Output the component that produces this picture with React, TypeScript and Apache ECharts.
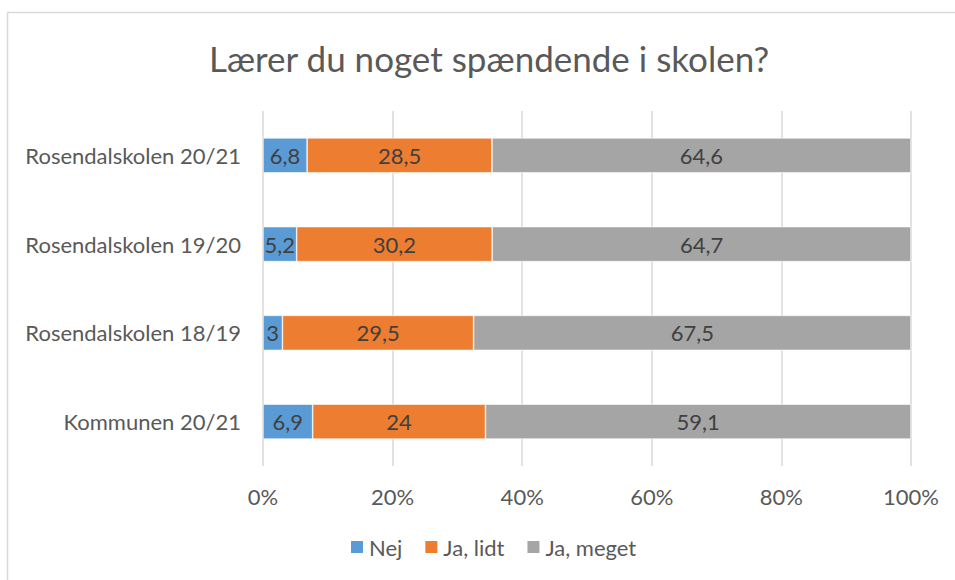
import React, { useEffect, useRef } from "react";
import * as echarts from "echarts";

const title = "Lærer du noget spændende i skolen?";
const categories = ["Kommunen 20/21", "Rosendalskolen 18/19", "Rosendalskolen 19/20", "Rosendalskolen 20/21"];
const seriesNames = ["Nej", "Ja, lidt", "Ja, meget"];
const nej = [6.9, 3, 5.2, 6.8];
const jaLidt = [24, 29.5, 30.2, 28.5];
const jaMeget = [59.1, 67.5, 64.7, 64.6];
const colors = ["#5B9BD5", "#ED7D31", "#A5A5A5"];
const FONT = "Lato";

export default function App() {
  const ref = useRef<HTMLDivElement>(null);
  useEffect(() => {
    if (!ref.current) return;
    const chart = echarts.init(ref.current, undefined, { renderer: "svg" });
    const raw = [nej, jaLidt, jaMeget];
    const totals = categories.map((_, i) => raw.reduce((s, arr) => s + arr[i], 0));
    const series = raw.map((arr, k) => ({
      name: seriesNames[k],
      type: "bar",
      stack: "total",
      barWidth: 35,
      itemStyle: { color: colors[k], borderColor: "#ffffff", borderWidth: 0.6 },
      label: {
        show: true,
        position: "inside",
        color: "#404040",
        fontFamily: FONT,
        fontSize: 22,
        formatter: (p: any) => String(arr[p.dataIndex]).replace(".", ","),
      },
      data: arr.map((v, i) => (v / totals[i]) * 100),
    }));
    chart.setOption({
      animation: false,
      backgroundColor: "#ffffff",
      title: {
        text: title,
        left: 484,
        textAlign: "center",
        top: 35,
        textStyle: { fontFamily: FONT, fontSize: 35, fontWeight: "normal", color: "#595959" },
      },
      graphic: [
        {
          type: "rect",
          shape: { x: 7.5, y: 12.5, width: 960, height: 600 },
          style: { fill: "none", stroke: "#d9d9d9", lineWidth: 1.5 },
          silent: true,
        },
      ],
      legend: {
        bottom: 17,
        left: 344,
        itemWidth: 14,
        itemHeight: 14,
        itemGap: 21,
        icon: "rect",
        textStyle: { fontFamily: FONT, fontSize: 22, color: "#595959" },
        data: seriesNames,
      },
      grid: { left: 263, right: 44, top: 111, bottom: 114, containLabel: false },
      xAxis: {
        type: "value",
        min: 0,
        max: 100,
        interval: 20,
        axisLabel: {
          formatter: "{value}%",
          fontFamily: FONT,
          fontSize: 22,
          color: "#595959",
          margin: 19,
        },
        axisLine: { show: false },
        axisTick: { show: false },
        splitLine: { lineStyle: { color: "#d9d9d9", width: 1.5 } },
      },
      yAxis: {
        type: "category",
        data: categories,
        axisLine: { show: false },
        axisTick: { show: false },
        axisLabel: { fontFamily: FONT, fontSize: 22, color: "#595959", margin: 22 },
      },
      series,
    });
    return () => chart.dispose();
  }, []);
  return <div ref={ref} style={{ position: "fixed", left: 0, top: 0, width: 955, height: 580 }} />;
}
